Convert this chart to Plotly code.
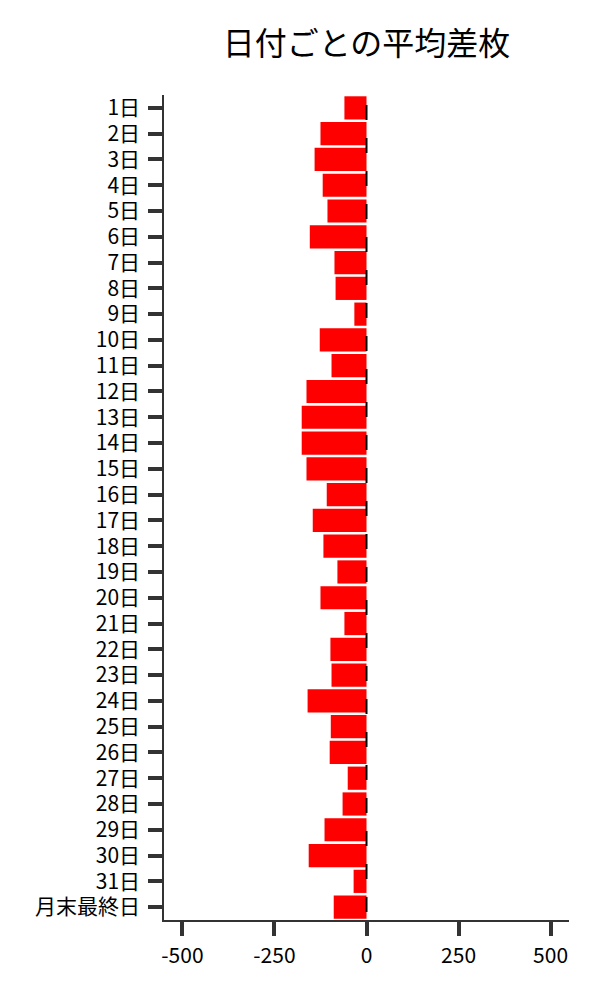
import plotly.graph_objects as go

# 日付ごとの平均差枚
days = [f"{d}日" for d in range(1, 32)] + ["月末最終日"]
avg_diff = [-60, -125, -141, -119, -106, -154, -87, -84, -33, -127, -95,
            -163, -176, -176, -163, -108, -146, -117, -79, -125, -60, -98,
            -95, -160, -97, -100, -51, -65, -114, -157, -35, -89]

x_ticks = [-500, -250, 0, 250, 500]

fig = go.Figure()
fig.add_trace(go.Bar(
    x=avg_diff,
    y=days,
    orientation="h",
    marker=dict(color="#ff0000", line=dict(width=0)),
    showlegend=False,
))

# dashed line at zero
fig.add_shape(type="line", xref="x", yref="paper", x0=0, x1=0, y0=1, y1=0,
              line=dict(color="black", width=2, dash="0px,10px,15px,8px"),
              layer="above")

font = "Noto Sans CJK JP"
fig.update_layout(
    width=600, height=1000,
    title=dict(text="日付ごとの平均差枚", x=0.5, xref="paper", y=0.964,
               yanchor="middle", font=dict(family=font, size=32, color="black")),
    font=dict(family=font, size=20, color="black"),
    plot_bgcolor="white", paper_bgcolor="white",
    margin=dict(l=156, r=39, t=87, b=88),
    bargap=0.1,
)
fig.update_xaxes(range=[-550, 550], tickvals=x_ticks, ticktext=[str(v) for v in x_ticks],
                 showgrid=False, zeroline=False, showline=True, linecolor="#333",
                 linewidth=1.5, ticks="outside", ticklen=14, tickwidth=4,
                 tickcolor="#333", tickfont=dict(size=21), ticklabelstandoff=2)
fig.update_yaxes(autorange="reversed", showgrid=False, zeroline=False, showline=True,
                 linecolor="#333", linewidth=1.5, ticks="outside", ticklen=14,
                 tickwidth=4, tickcolor="#333", tickfont=dict(size=21),
                 ticklabelstandoff=4)

fig.write_html("out.html")
